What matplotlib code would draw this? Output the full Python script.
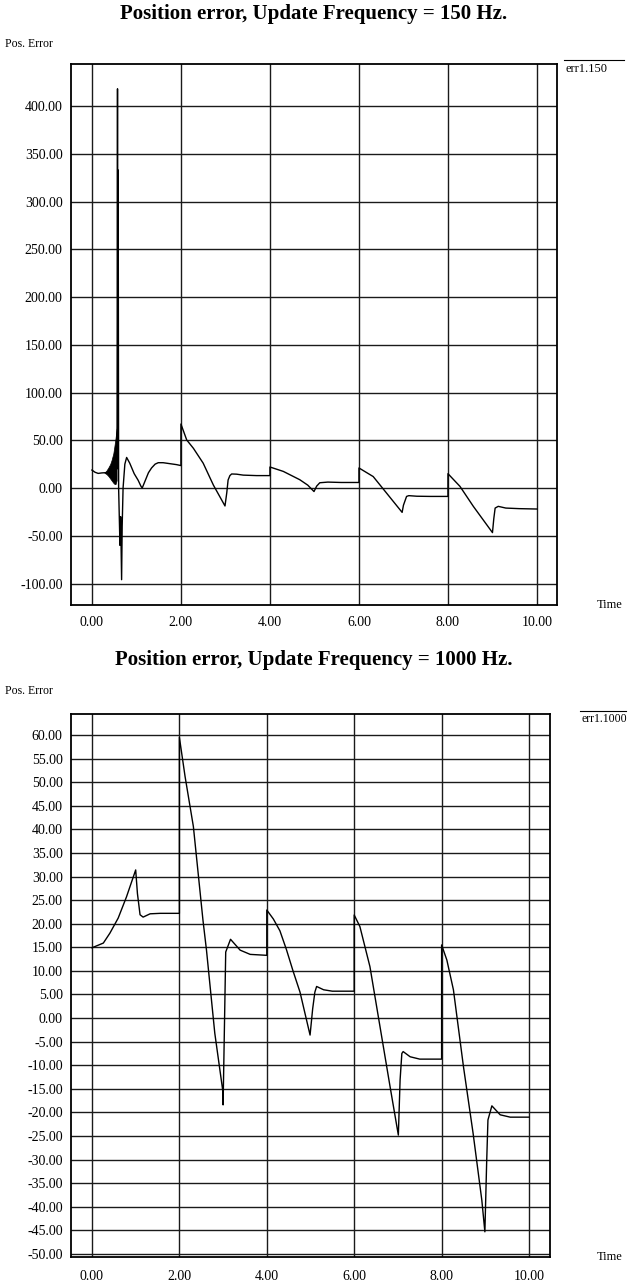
import numpy as np
import matplotlib
matplotlib.use("Agg")
import matplotlib.pyplot as plt

plt.rcParams['font.family'] = ['Liberation Serif', 'DejaVu Serif']

# ---- 150 Hz run ----
t150 = [0.0, 0.07, 0.14, 0.22, 0.29, 0.40, 0.50, 0.55, 0.565, 0.575, 0.582, 0.59, 0.60,
        0.63, 0.645, 0.667, 0.68, 0.70, 0.74, 0.78, 0.85, 0.95, 1.04, 1.10, 1.13, 1.20,
        1.27, 1.34, 1.42, 1.49, 1.60, 1.75, 1.90, 2.0,
        2.0, 2.13, 2.28, 2.50, 2.73, 2.99, 3.03, 3.06, 3.10, 3.14, 3.25, 3.40, 3.70, 4.0,
        4.0, 4.30, 4.67, 4.85, 4.99, 5.05, 5.12, 5.30, 5.60, 6.0,
        6.0, 6.32, 6.62, 6.97, 7.0, 7.07, 7.12, 7.30, 7.60, 8.0,
        8.0, 8.27, 8.57, 9.0, 9.03, 9.06, 9.13, 9.30, 9.60, 10.0]
e150 = [18.8, 16.5, 15.3, 15.8, 16.0, 16.0, 20.0, 30.0, 64.0, 418.0, 20.0, 333.0, 0.0,
        -60.0, -30.0, -96.0, -40.0, 0.0, 25.0, 32.0, 26.0, 15.0, 8.0, 2.0, 0.0, 8.0,
        16.0, 21.0, 25.0, 26.5, 26.5, 25.5, 24.5, 23.5,
        67.0, 50.3, 41.6, 26.0, 3.0, -18.8, -5.0, 8.4, 13.0, 14.7, 14.5, 13.5, 13.0, 13.0,
        22.0, 17.4, 8.7, 3.0, -3.7, 2.0, 5.5, 6.2, 5.8, 5.8,
        21.0, 12.0, -5.3, -25.5, -18.0, -8.8, -8.0, -8.6, -8.8, -8.8,
        15.0, 1.7, -19.2, -46.7, -32.0, -21.0, -19.2, -21.0, -21.6, -22.0]

# envelope of the fast oscillation before the big spike
osc_t = [0.28, 0.33, 0.37, 0.41, 0.44, 0.48, 0.50, 0.53, 0.555]
osc_lo = [16.0, 14.5, 12.5, 10.0, 8.0, 5.5, 4.5, 4.0, 8.0]
osc_hi = [16.0, 18.5, 21.5, 25.0, 29.0, 36.0, 42.0, 52.0, 62.0]

# ---- 1000 Hz run ----
t1000 = [0.0, 0.26, 0.41, 0.60, 0.79, 1.0, 1.04, 1.10, 1.17, 1.33, 1.56, 2.0,
         2.0, 2.13, 2.32, 2.54, 2.62, 2.81, 2.99, 3.0, 3.06, 3.17, 3.39, 3.62, 4.0,
         4.0, 4.15, 4.30, 4.45, 4.60, 4.76, 4.99, 5.05, 5.10, 5.14, 5.30, 5.50, 6.0,
         6.0, 6.13, 6.36, 6.59, 6.82, 7.01, 7.05, 7.09, 7.12, 7.28, 7.50, 8.0,
         8.0, 8.12, 8.27, 8.50, 8.72, 8.92, 8.99, 9.03, 9.06, 9.15, 9.34, 9.57, 10.0]
e1000 = [14.9, 15.9, 18.0, 21.2, 25.7, 31.4, 26.4, 21.9, 21.4, 22.1, 22.2, 22.2,
         59.5, 51.2, 40.6, 20.7, 14.4, -3.2, -15.2, -18.4, 14.0, 16.7, 14.4, 13.5, 13.3,
         22.9, 21.0, 18.5, 14.5, 10.0, 5.5, -3.6, 2.0, 5.5, 6.7, 6.0, 5.7, 5.7,
         21.85, 19.4, 10.9, -1.8, -14.5, -24.8, -13.1, -7.5, -7.1, -8.2, -8.7, -8.7,
         15.5, 12.3, 6.0, -10.3, -24.4, -38.6, -45.3, -30.8, -21.6, -18.6, -20.5, -21.0, -21.0]

x_ticks = [0, 2, 4, 6, 8, 10]
y_ticks150 = list(range(-100, 401, 50))
y_ticks1000 = list(range(-50, 61, 5))

fig = plt.figure(figsize=(6.29, 12.84), dpi=100)
W, H = 629.0, 1284.0


def style_axes(ax, yticks, ylim, xlim, xpad):
    ax.set_xlim(*xlim)
    ax.set_ylim(*ylim)
    ax.set_xticks(x_ticks)
    ax.set_yticks(yticks)
    ax.set_xticklabels(["%.2f" % v for v in x_ticks])
    ax.set_yticklabels(["%.2f" % v for v in yticks])
    ax.tick_params(length=0, labelsize=10, colors='black')
    ax.tick_params(axis='x', pad=xpad)
    ax.tick_params(axis='y', pad=6)
    ax.grid(True, color='#1a1a1a', linewidth=1.0)
    ax.set_axisbelow(True)
    for s in ax.spines.values():
        s.set_linewidth(1.3)
        s.set_color('black')


# top chart
ax1 = fig.add_axes([71 / W, 1 - 605 / H, (557 - 71) / W, (605 - 64) / H])
ax1.fill_between(osc_t, osc_lo, osc_hi, color='black', linewidth=0.5)
ax1.plot(t150, e150, color='black', linewidth=1.0)
style_axes(ax1, y_ticks150, (-122.5, 444), (-0.47, 10.45), 8)

fig.text(314 / W, 1 - 14 / H, "Position error, Update Frequency = 150 Hz.",
         ha='center', va='center', fontsize=15, fontweight='bold')
fig.text(5 / W, 1 - 44 / H, "Pos. Error", ha='left', va='center', fontsize=8.5)
fig.text(597 / W, 1 - 605 / H, "Time", ha='left', va='center', fontsize=9)
fig.text(565 / W, 1 - 69 / H, "err1.150", ha='left', va='center', fontsize=9)
fig.add_artist(plt.Line2D([564 / W, 624 / W], [1 - 60 / H, 1 - 60 / H],
                          color='black', linewidth=0.8))

# bottom chart
ax2 = fig.add_axes([71 / W, 1 - 1257 / H, (550 - 71) / W, (1257 - 714) / H])
ax2.plot(t1000, e1000, color='black', linewidth=1.0)
style_axes(ax2, y_ticks1000, (-50.64, 64.45), (-0.48, 10.48), 9)

fig.text(314 / W, 1 - 660 / H, "Position error, Update Frequency = 1000 Hz.",
         ha='center', va='center', fontsize=15, fontweight='bold')
fig.text(5 / W, 1 - 691 / H, "Pos. Error", ha='left', va='center', fontsize=8.5)
fig.text(597 / W, 1 - 1257 / H, "Time", ha='left', va='center', fontsize=9)
fig.text(582 / W, 1 - 719 / H, "err1.1000", ha='left', va='center', fontsize=8.5)
fig.add_artist(plt.Line2D([580 / W, 626 / W], [1 - 711 / H, 1 - 711 / H],
                          color='black', linewidth=0.8))

fig.savefig("out.png", dpi=100, facecolor='white')
